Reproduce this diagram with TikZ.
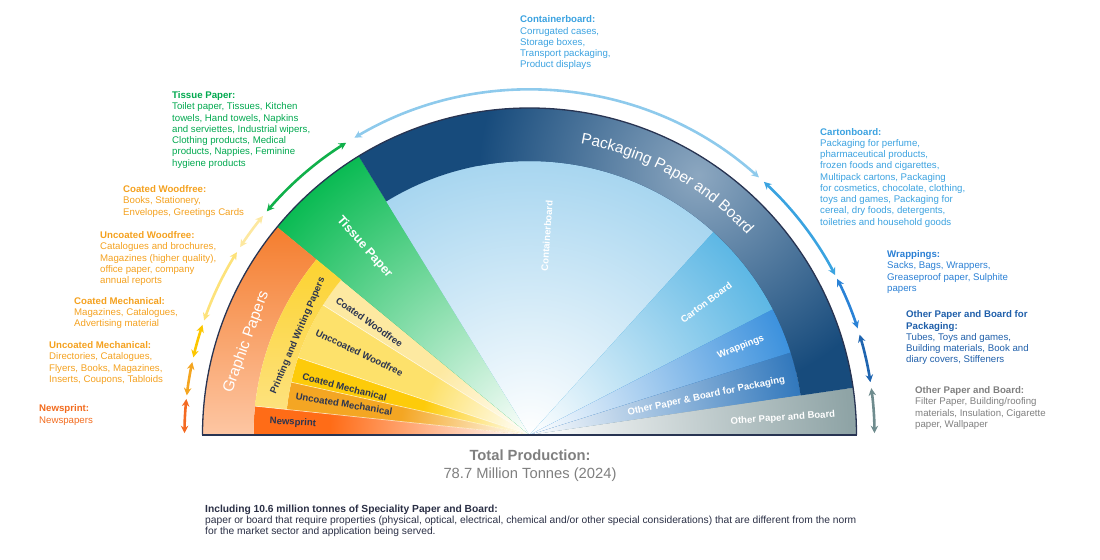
\documentclass[tikz,border=0pt]{standalone}
\usepackage{fontspec}
\setmainfont{Liberation Sans}
\usetikzlibrary{arrows.meta,decorations.text}

\definecolor{newsorange}{HTML}{FF6C17}
\definecolor{umechgold}{HTML}{F4A623}
\definecolor{cmechgold}{HTML}{FDCB0A}
\definecolor{uwoodyellow}{HTML}{FDE16B}
\definecolor{cwoodyellow}{HTML}{FDE9A1}
\definecolor{pwgold}{HTML}{FCD22E}
\definecolor{pwlight}{HTML}{FDE27E}
\definecolor{graphorange}{HTML}{F47B2A}
\definecolor{graphpeach}{HTML}{FDC6A3}
\definecolor{tissuegreen}{HTML}{00B84C}
\definecolor{contblue}{HTML}{86C6EA}
\definecolor{cartonblue}{HTML}{36A6DE}
\definecolor{wrapblue}{HTML}{2A87DA}
\definecolor{opbpblue}{HTML}{1E6BB6}
\definecolor{opbgrey}{HTML}{8FA4A6}
\definecolor{packnavy}{HTML}{174B7C}
\definecolor{packlight}{HTML}{8CA7C0}
\definecolor{outlinenavy}{HTML}{283452}
\definecolor{labelnavy}{HTML}{2C3550}
\definecolor{arrcont}{HTML}{8ECAEC}
\definecolor{arrcarton}{HTML}{3AA3E0}
\definecolor{arrwrap}{HTML}{2A82D6}
\definecolor{arropbp}{HTML}{1F65B0}
\definecolor{arropb}{HTML}{6F8C8E}
\definecolor{arrtissue}{HTML}{10B04A}
\definecolor{arrcwood}{HTML}{FDE8A0}
\definecolor{arruwood}{HTML}{FDE27A}
\definecolor{arrcmech}{HTML}{FCC700}
\definecolor{arrumech}{HTML}{F4A520}
\definecolor{arrnews}{HTML}{F46A22}
\definecolor{txtblue}{HTML}{3BA2E0}
\definecolor{txtwrap}{HTML}{2A7FD4}
\definecolor{txtopbp}{HTML}{1F5FAA}
\definecolor{txtgrey}{HTML}{7F7F7F}
\definecolor{txtgreen}{HTML}{00A84E}
\definecolor{txtgold}{HTML}{F4A11F}
\definecolor{txtnews}{HTML}{F26B1D}
\definecolor{notenavy}{HTML}{2A2F45}

\begin{document}
\begin{tikzpicture}[x=1bp,y=1bp,
    lbl/.style={font=\fontsize{9.7}{11.3}\selectfont, align=left, inner sep=0pt, anchor=north west},
    wlbl/.style={font=\fontsize{9.6}{11}\selectfont\bfseries, text=labelnavy, inner sep=0pt},
    wlblw/.style={wlbl, text=white},
    twoway/.style={line width=2.6bp, {Stealth[length=7.5bp,width=7.5bp]}-{Stealth[length=7.5bp,width=7.5bp]}}]
    \useasboundingbox (-529.5,-125) rectangle (570.5,435);
    \foreach \a/\b/\r/\f/\col in {174/180/276/200/newsorange, 167.5/174/244/130/umechgold,
        161.5/167.5/244/110/cmechgold, 147.8/161.5/244/110/uwoodyellow, 140.5/147.8/244/110/cwoodyellow,
        121.5/140.5/327/340/tissuegreen, 47.8/121.5/274/380/contblue, 27.3/47.8/274/340/cartonblue,
        17.5/27.3/274/300/wrapblue, 8.3/17.5/274/300/opbpblue, 0/8.3/327/320/opbgrey}
    {
        \begin{scope}
            \clip (0,0) -- (\a:\r) arc (\a:\b:\r) -- cycle;
            \fill[\col] (-330,0) rectangle (330,330);
            \shade[inner color=white, outer color=\col] (0,0) circle (\f);
        \end{scope}
    }
    \begin{scope}
        \clip (140.5:276) arc (140.5:180:276) -- (180:327) arc (180:140.5:327) -- cycle;
        \shade[top color=graphorange, bottom color=graphpeach] (-330,0) rectangle (-200,215);
    \end{scope}
    \begin{scope}
        \clip (140.5:244) arc (140.5:174:244) -- (174:276) arc (174:140.5:276) -- cycle;
        \shade[top color=pwgold, bottom color=pwlight] (-280,25) rectangle (-180,180);
    \end{scope}
    \foreach \a in {147.8,161.5,167.5}
        \draw[white, opacity=0.6, line width=0.7bp] (0,0) -- (\a:244);
    \draw[white, opacity=0.6, line width=0.7bp] (0,0) -- (174:276);
    \begin{scope}
        \clip (8.3:274) arc (8.3:121.5:274) -- (121.5:327) arc (121.5:8.3:327) -- cycle;
        \fill[packnavy] (-200,0) rectangle (330,330);
        \shade[inner color=packlight, outer color=packnavy] (57:310) circle (220);
    \end{scope}
    \draw[outlinenavy, line width=1.3bp] (-327,0) arc (180:0:327);
    \draw[outlinenavy, line width=2bp] (-327,0) -- (327,0);

    \path[decorate, decoration={text along path, text align=center, text color=white,
        text={|\fontsize{15.5}{18}\selectfont|Packaging Paper and Board}}] (82:295.5) arc (82:40.6:295.5);
    \node[wlblw, font=\fontsize{15.5}{18}\selectfont, rotate=70] (graphic) at (161.8:298) {Graphic Papers};
    \node[wlbl, rotate=67] (printwrite) at (156.8:252) {Printing and Writing Papers};
    \node[wlbl, rotate=-35.2] (cwood) at (144.8:196) {Coated Woodfree};
    \node[wlbl, rotate=-25.8] (uwood) at (154.2:189) {Unccoated Woodfree};
    \node[wlbl, rotate=-14.5] (cmech) at (165.5:191) {Coated Mechanical};
    \node[wlbl, rotate=-9.5] (umech) at (170.5:188) {Uncoated Mechanical};
    \node[wlbl, rotate=-3] (news) at (177:237) {Newsprint};
    \node[wlblw, font=\fontsize{12.5}{15}\selectfont\bfseries, rotate=-48.7] (tissue) at (131.3:250) {Tissue Paper};
    \node[wlblw, rotate=86] (cont) at (85:200) {Containerboard};
    \node[wlblw, rotate=37] (carton) at (36.9:221) {Carton Board};
    \node[wlblw, rotate=22] (wrap) at (22.6:229) {Wrappings};
    \node[wlblw, rotate=12] (opbp) at (12.4:181) {Other Paper \& Board for Packaging};
    \node[wlblw, rotate=4] (opb) at (3.8:254) {Other Paper and Board};

    \foreach \a/\b/\col in {120.5/48.3/arrcont, 47.2/27.6/arrcarton, 26.9/18/arrwrap,
        16.9/8.8/arropbp, 7.8/0.3/arropb, 139.6/122.1/arrtissue, 140.6/147/arrcwood,
        148/160.6/arruwood, 161.4/167/arrcmech, 167.8/173.4/arrumech, 174/179.7/arrnews}
        \draw[twoway, \col] (\a:345) arc (\a:\b:345);

    \node[lbl, text=txtblue] (conttext) at (-9.5,419.3) {\textbf{Containerboard:}\\Corrugated cases,\\Storage boxes,\\Transport packaging,\\Product displays};
    \node[lbl, text=txtblue] (cartontext) at (290.5,307) {\textbf{Cartonboard:}\\Packaging for perfume,\\pharmaceutical products,\\frozen foods and cigarettes,\\Multipack cartons, Packaging\\for cosmetics, chocolate, clothing,\\toys and games, Packaging for\\cereal, dry foods, detergents,\\toiletries and household goods};
    \node[lbl, text=txtwrap] (wraptext) at (357.5,184.6) {\textbf{Wrappings:}\\Sacks, Bags, Wrappers,\\Greaseproof paper, Sulphite\\papers};
    \node[lbl, text=txtopbp] (opbptext) at (376.5,124.3) {\textbf{Other Paper and Board for}\\\textbf{Packaging:}\\Tubes, Toys and games,\\Building materials, Book and\\diary covers, Stiffeners};
    \node[lbl, text=txtgrey] (opbtext) at (385.5,48.6) {\textbf{Other Paper and Board:}\\Filter Paper, Building/roofing\\materials, Insulation, Cigarette\\paper, Wallpaper};
    \node[lbl, text=txtgreen] (tissuetext) at (-357.5,343.6) {\textbf{Tissue Paper:}\\Toilet paper, Tissues, Kitchen\\towels, Hand towels, Napkins\\and serviettes, Industrial wipers,\\Clothing products, Medical\\products, Nappies, Feminine\\hygiene products};
    \node[lbl, text=txtgold] (cwoodtext) at (-406.5,249.6) {\textbf{Coated Woodfree:}\\Books, Stationery,\\Envelopes, Greetings Cards};
    \node[lbl, text=txtgold] (uwoodtext) at (-429.5,203.6) {\textbf{Uncoated Woodfree:}\\Catalogues and brochures,\\Magazines (higher quality),\\office paper, company\\annual reports};
    \node[lbl, text=txtgold] (cmechtext) at (-455.5,138) {\textbf{Coated Mechanical:}\\Magazines, Catalogues,\\Advertising material};
    \node[lbl, text=txtgold] (umechtext) at (-480.5,93.6) {\textbf{Uncoated Mechanical:}\\Directories, Catalogues,\\Flyers, Books, Magazines,\\Inserts, Coupons, Tabloids};
    \node[lbl, text=txtnews] (newstext) at (-490.5,30.3) {\textbf{Newsprint:}\\Newspapers};

    \node[font=\fontsize{14.8}{18}\selectfont, text=txtgrey, inner sep=0pt, anchor=north, align=center] (total) at (0.5,-14.5) {\textbf{Total Production:}\\78.7 Million Tonnes (2024)};
    \node[lbl, font=\fontsize{10.3}{11.3}\selectfont, text=notenavy] (note) at (-324.5,-69.4) {\textbf{Including 10.6 million tonnes of Speciality Paper and Board:}\\paper or board that require properties (physical, optical, electrical, chemical and/or other special considerations) that are different from the norm\\for the market sector and application being served.};
\end{tikzpicture}
\end{document}
